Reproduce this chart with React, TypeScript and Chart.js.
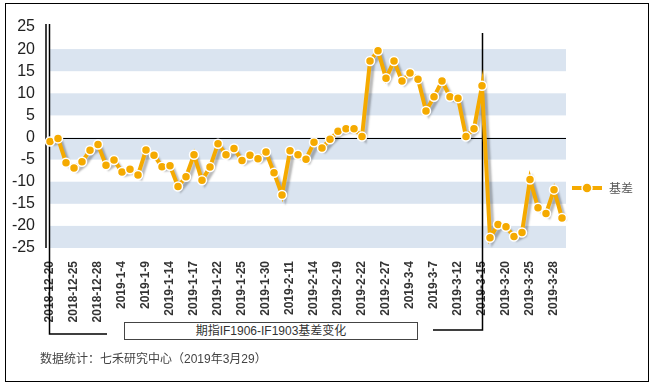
import React, { useEffect, useRef } from "react";
import { Chart, registerables } from "chart.js";
Chart.register(...registerables);

const dates = [
  "2018-12-20", "2018-12-21", "2018-12-24", "2018-12-25", "2018-12-26", "2018-12-27", "2018-12-28",
  "2019-1-2", "2019-1-3", "2019-1-4", "2019-1-7", "2019-1-8", "2019-1-9", "2019-1-10", "2019-1-11",
  "2019-1-14", "2019-1-15", "2019-1-16", "2019-1-17", "2019-1-18", "2019-1-21", "2019-1-22", "2019-1-23",
  "2019-1-24", "2019-1-25", "2019-1-28", "2019-1-29", "2019-1-30", "2019-1-31", "2019-2-1", "2019-2-11",
  "2019-2-12", "2019-2-13", "2019-2-14", "2019-2-15", "2019-2-18", "2019-2-19", "2019-2-20", "2019-2-21",
  "2019-2-22", "2019-2-25", "2019-2-26", "2019-2-27", "2019-2-28", "2019-3-1", "2019-3-4", "2019-3-5",
  "2019-3-6", "2019-3-7", "2019-3-8", "2019-3-11", "2019-3-12", "2019-3-13", "2019-3-14", "2019-3-15",
  "2019-3-18", "2019-3-19", "2019-3-20", "2019-3-21", "2019-3-22", "2019-3-25", "2019-3-26", "2019-3-27",
  "2019-3-28", "2019-3-29",
];

const basis = [
  -0.9, -0.2, -5.7, -6.9, -5.5, -2.9, -1.6, -6.3, -5.1, -7.8, -7.2, -8.5, -2.8, -4.0, -6.6, -6.4,
  -11.1, -8.9, -3.9, -9.7, -6.7, -1.4, -3.9, -2.5, -5.2, -4.0, -4.8, -3.3, -8.0, -13.0, -3.0, -3.9,
  -4.9, -1.1, -2.4, -0.4, 1.4, 2.0, 2.0, 0.2, 17.3, 19.6, 13.4, 17.3, 12.8, 14.6, 13.2, 6.0,
  9.2, 12.8, 9.2, 8.9, 0.2, 2.0, 11.7, -22.7, -19.7, -20.2, -22.4, -21.5, -9.5, -15.9, -17.2,
  -11.8, -18.2,
];

const seriesName = "基差";
const labelEvery = 3;
const yMin = -25;
const yMax = 25;
const yStep = 5;
const markerIndexes = [0, 54];
const captionText = "期指IF1906-IF1903基差变化";
const footerText = "数据统计：七禾研究中心（2019年3月29）";

const ORANGE = "#F5AA00";
const BAND = "#DAE4F0";
const LATIN = "Arial, 'Liberation Sans', 'Noto Sans CJK SC', sans-serif";

const decorPlugin = {
  id: "decor",
  beforeDatasetsDraw(chart: any) {
    const { ctx, chartArea, scales } = chart;
    const ys = scales.y;
    const xs = scales.x;
    const ext = 4;
    ctx.save();
    const ticks = ys.ticks.map((t: any) => t.value).sort((a: number, b: number) => a - b);
    ctx.fillStyle = BAND;
    for (let i = 0; i + 1 < ticks.length; i += 2) {
      const y1 = ys.getPixelForValue(ticks[i]);
      const y2 = ys.getPixelForValue(ticks[i + 1]);
      ctx.fillRect(chartArea.left, Math.min(y1, y2), chartArea.right + ext - chartArea.left, Math.abs(y2 - y1));
    }
    ctx.strokeStyle = "#000";
    ctx.lineWidth = 1.5;
    ctx.beginPath();
    ctx.moveTo(chartArea.left - 4, chartArea.top - 3);
    ctx.lineTo(chartArea.left - 4, chartArea.bottom);
    ctx.stroke();
    const y0 = ys.getPixelForValue(0);
    ctx.lineWidth = 1;
    ctx.beginPath();
    ctx.moveTo(chartArea.left, Math.round(y0) + 0.5);
    ctx.lineTo(chartArea.right + ext, Math.round(y0) + 0.5);
    ctx.stroke();
    const xa = xs.getPixelForValue(markerIndexes[0]) - 0.5;
    ctx.lineWidth = 1.5;
    ctx.beginPath();
    ctx.moveTo(xa, chartArea.top - 3);
    ctx.lineTo(xa, 334);
    ctx.lineTo(107, 334);
    ctx.stroke();
    const xb = xs.getPixelForValue(markerIndexes[1]) + 0.5;
    ctx.beginPath();
    ctx.moveTo(xb, chartArea.top + 6);
    ctx.lineTo(xb, 330);
    ctx.lineTo(433, 330);
    ctx.stroke();
    ctx.restore();
  },
  beforeDatasetDraw(chart: any, args: any) {
    if (args.index === 1) {
      const ctx = chart.ctx;
      ctx.save();
      ctx.shadowColor = "rgba(0,0,0,0.28)";
      ctx.shadowOffsetX = 3;
      ctx.shadowOffsetY = 3;
      ctx.shadowBlur = 2;
    }
  },
  afterDatasetDraw(chart: any, args: any) {
    if (args.index === 1) chart.ctx.restore();
  },
  afterDraw(chart: any) {
    const { ctx, chartArea } = chart;
    const ds = chart.data.datasets[0];
    const x0 = chartArea.right + 10;
    const y = 188;
    ctx.save();
    ctx.strokeStyle = ORANGE;
    ctx.lineWidth = 4;
    ctx.beginPath();
    ctx.moveTo(x0, y);
    ctx.lineTo(x0 + 30, y);
    ctx.stroke();
    ctx.beginPath();
    ctx.arc(x0 + 15, y, 5, 0, Math.PI * 2);
    ctx.fillStyle = ORANGE;
    ctx.fill();
    ctx.lineWidth = 1.5;
    ctx.strokeStyle = "#fff";
    ctx.stroke();
    ctx.fillStyle = "#555";
    ctx.font = "12px 'Noto Sans CJK SC', sans-serif";
    ctx.textBaseline = "middle";
    ctx.textAlign = "left";
    ctx.fillText(ds.label, x0 + 37, y);
    ctx.restore();
  },
};

export default function App() {
  const ref = useRef<HTMLCanvasElement | null>(null);
  useEffect(() => {
    if (!ref.current) return;
    const chart = new Chart(ref.current, {
      type: "line",
      data: {
        labels: dates,
        datasets: [
          {
            label: seriesName,
            data: basis,
            showLine: false,
            pointStyle: "circle",
            pointRadius: 4.5,
            pointBackgroundColor: ORANGE,
            pointBorderColor: "#fff",
            pointBorderWidth: 1.5,
            clip: false as any,
            order: 0,
          },
          {
            label: seriesName,
            data: basis,
            borderColor: ORANGE,
            borderWidth: 4,
            pointRadius: 0,
            tension: 0,
            clip: false as any,
            order: 1,
          },
        ],
      },
      options: {
        animation: false,
        responsive: false,
        events: [],
        layout: { padding: { top: 27, right: 90, bottom: 0, left: 0 } },
        plugins: { legend: { display: false }, tooltip: { enabled: false } },
        scales: {
          x: {
            grid: { display: false },
            border: { display: false },
            afterFit: (s: any) => {
              s.height = 137;
            },
            ticks: {
              autoSkip: false,
              minRotation: 90,
              maxRotation: 90,
              padding: 5,
              color: "#333",
              font: { family: LATIN, size: 12, weight: "bold" },
              callback: (_v: any, i: number) => (i % labelEvery === 0 ? dates[i] : ""),
            },
          },
          y: {
            min: yMin,
            max: yMax,
            grid: { display: false },
            border: { display: false },
            afterFit: (s: any) => {
              s.width = 50;
            },
            ticks: {
              stepSize: yStep,
              autoSkip: false,
              padding: 7,
              color: "#222",
              font: { family: LATIN, size: 16 },
            },
          },
        },
      },
      plugins: [decorPlugin],
    });
    return () => chart.destroy();
  }, []);

  return (
    <div style={{ position: "fixed", left: 0, top: 0, width: 652, height: 385, background: "#fff", overflow: "hidden" }}>
      <canvas ref={ref} width={652} height={385} style={{ position: "absolute", left: 0, top: 0, width: 652, height: 385 }} />
      <div
        style={{
          position: "absolute",
          left: 124,
          top: 322,
          width: 292,
          height: 16,
          border: "1px solid #444",
          background: "#fff",
          textAlign: "center",
          font: "12px/16px 'Liberation Sans', Arial, 'Noto Sans CJK SC', sans-serif",
          color: "#333",
        }}
      >
        {captionText}
      </div>
      <div
        style={{
          position: "absolute",
          left: 40,
          top: 351,
          whiteSpace: "nowrap",
          font: "12px/16px 'Liberation Sans', Arial, 'Noto Sans CJK SC', sans-serif",
          color: "#444",
        }}
      >
        {footerText}
      </div>
      <div
        style={{
          position: "absolute",
          left: 5,
          top: 3,
          width: 642,
          height: 377,
          border: "1px solid #000",
          pointerEvents: "none",
        }}
      />
    </div>
  );
}
